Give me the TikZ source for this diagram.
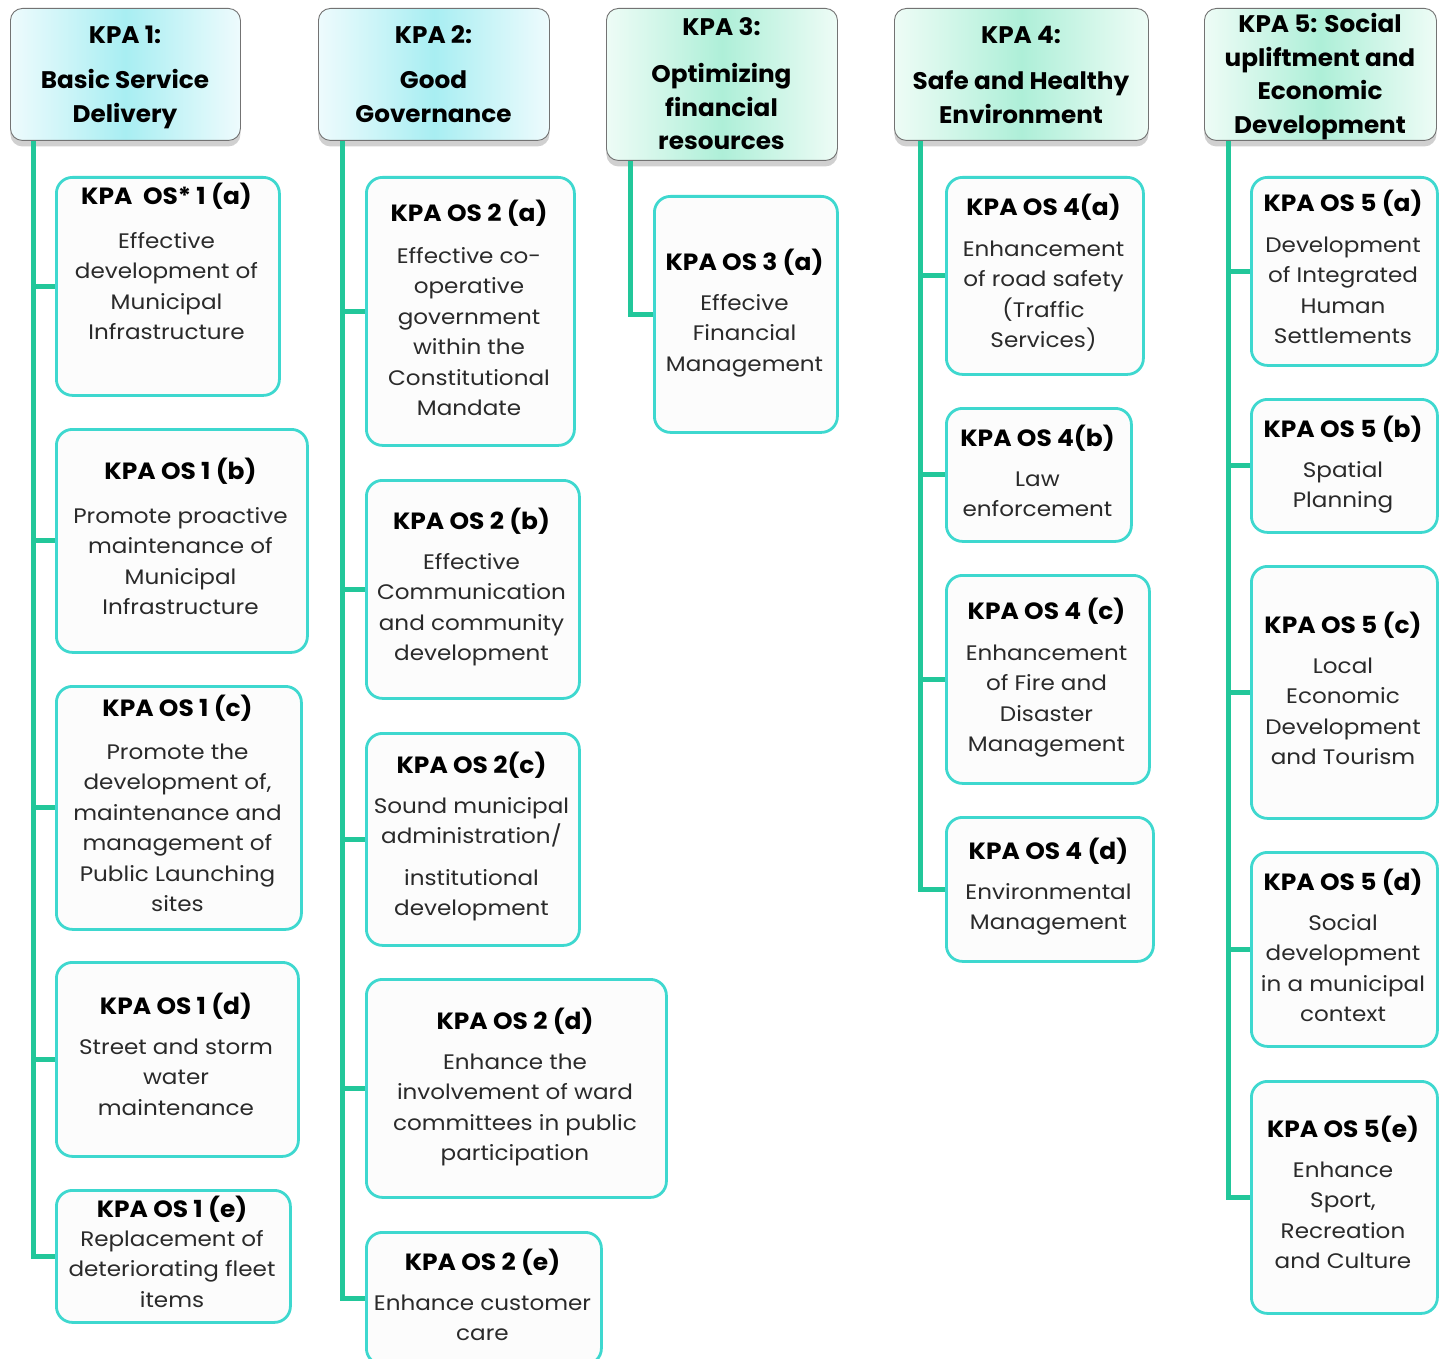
\documentclass[tikz,border=0pt]{standalone}
\usepackage{fontspec}
\setmainfont{Poppins}
\newfontfamily\bodyfont{Poppins}[FakeStretch=1.1]
\newfontfamily\ttlfont{Poppins}[FakeStretch=1.06]
\newfontfamily\hdrfont{Poppins}[FakeStretch=1.03]
\usetikzlibrary{shadows}
\definecolor{trunkc}{HTML}{22C79A}
\definecolor{boxc}{HTML}{3ED8CF}
\definecolor{boxfill}{HTML}{FCFCFC}
\definecolor{bodyc}{HTML}{2A2A2A}
\definecolor{hdrin}{HTML}{A8EEF2}
\definecolor{hdrout}{HTML}{EEFBFD}
\definecolor{hdrgin}{HTML}{AEEFD8}
\definecolor{hdrgout}{HTML}{EEFCF6}
\tikzset{
  conn/.style={draw=trunkc, line width=5pt},
  kbox/.style={draw=boxc, fill=boxfill, line width=2.8pt, rounded corners=16pt, inner sep=0pt},
  ttl/.style={font=\ttlfont\bfseries\fontsize{23.5}{27}\selectfont, inner sep=0pt, text=black},
  bdy/.style={font=\bodyfont\fontsize{21}{30.5}\selectfont, align=center, inner sep=0pt, text=bodyc},
  hdr/.style={draw=black!55, line width=0.9pt, rounded corners=12pt, inner sep=0pt,
    left color=hdrout, right color=hdrout, middle color=hdrin,
    drop shadow={shadow xshift=0pt, shadow yshift=-6pt, opacity=0.3, fill=black!60}},
  hdrg/.style={hdr, left color=hdrgout, right color=hdrgout, middle color=hdrgin},
  htxt/.style={font=\hdrfont\bfseries\fontsize{24}{33.5}\selectfont, align=center, inner sep=0pt, text=black},
}
\newcommand{\osbox}[9]{%
  \node[kbox, anchor=north west, minimum width={(#4-#2)*1pt}, minimum height={(#5-#3)*1pt}] (#1) at (#2,#3) {};
  \node[ttl, anchor=base] (#1t) at ({(#2+#4)/2}, {#6+8}) {#7};
  \node[bdy, anchor=north] (#1b) at ({(#2+#4)/2}, {#8-15}) {\rule{0pt}{22pt}#9};
}
\newcommand{\kpahdr}[8]{%
  \node[#8, anchor=north west, minimum width={(#4-#2)*1pt}, minimum height={(#5-#3)*1pt}] (#1) at (#2,#3) {};
  \node[htxt, anchor=north] (#1x) at ({(#2+#4)/2}, {#6-15.6}) {\rule{0pt}{24pt}#7};
}
\begin{document}
\begin{tikzpicture}[x=1pt, y=-1pt]
\useasboundingbox[fill=white] (0,0) rectangle (1441,1359);

% headers
\kpahdr{h1}{10}{8}{240}{140}{35}{KPA 1:\\[11.5pt]Basic Service\\Delivery}{hdr}
\kpahdr{h2}{318}{8}{549}{140}{35}{KPA 2:\\[11.5pt]Good\\Governance}{hdr}
\kpahdr{h3}{606}{8}{837}{160}{27}{KPA 3:\\[13.5pt]Optimizing\\financial\\resources}{hdrg}
\kpahdr{h4}{894}{8}{1148}{140}{35}{KPA 4:\\[12.5pt]Safe and Healthy\\Environment}{hdrg}
\kpahdr{h5}{1204}{8}{1436}{140}{24}{KPA 5: Social\\upliftment and\\Economic\\Development}{hdrg}

% column 1
\osbox{b1a}{55}{176}{278}{394}{197}{KPA\ \ OS* 1 (a)}{241}{Effective\\development of\\Municipal\\Infrastructure}
\osbox{b1b}{55}{428}{306}{651}{471}{KPA OS 1 (b)}{516}{Promote proactive\\maintenance of\\Municipal\\Infrastructure}
\osbox{b1c}{55}{685}{300}{928}{708}{KPA OS 1 (c)}{752}{Promote the\\development of,\\maintenance and\\management of\\Public Launching\\sites}
\osbox{b1d}{55}{961}{297}{1155}{1006}{KPA OS 1 (d)}{1047}{Street and storm\\water\\maintenance}
\osbox{b1e}{55}{1189}{289}{1321}{1209}{KPA OS 1 (e)}{1239}{Replacement of\\deteriorating fleet\\items}

% column 2
\osbox{b2a}{365}{176}{573}{444}{214}{KPA OS 2 (a)}{256}{Effective co-\\operative\\government\\within the\\Constitutional\\Mandate}
\osbox{b2b}{365}{479}{578}{697}{521}{KPA OS 2 (b)}{562}{Effective\\Communication\\and community\\development}
\osbox{b2c}{365}{732}{578}{944}{765}{KPA OS 2(c)}{806}{Sound municipal\\administration/\\[11pt]institutional\\development}
\osbox{b2d}{365}{978}{665}{1196}{1021}{KPA OS 2 (d)}{1062}{Enhance the\\involvement of ward\\committees in public\\participation}
\osbox{b2e}{365}{1231}{600}{1363}{1262}{KPA OS 2 (e)}{1303}{Enhance customer\\care}

% column 3
\osbox{b3a}{653}{195}{836}{431}{262}{KPA OS 3 (a)}{303}{Effecive\\Financial\\Management}

% column 4
\osbox{b4a}{945}{176}{1142}{373}{208}{KPA OS 4(a)}{249}{Enhancement\\of road safety\\(Traffic\\Services)}
\osbox{b4b}{945}{407}{1130}{540}{438}{KPA OS 4(b)}{479}{Law\\enforcement}
\osbox{b4c}{945}{574}{1148}{782}{611}{KPA OS 4 (c)}{653}{Enhancement\\of Fire and\\Disaster\\Management}
\osbox{b4d}{945}{816}{1152}{960}{851}{KPA OS 4 (d)}{892}{Environmental\\Management}

% column 5
\osbox{b5a}{1250}{176}{1436}{364}{204}{KPA OS 5 (a)}{245}{Development\\of Integrated\\Human\\Settlements}
\osbox{b5b}{1250}{398}{1436}{531}{429}{KPA OS 5 (b)}{470}{Spatial\\Planning}
\osbox{b5c}{1250}{565}{1436}{817}{625}{KPA OS 5 (c)}{666}{Local\\Economic\\Development\\and Tourism}
\osbox{b5d}{1250}{851}{1436}{1045}{882}{KPA OS 5 (d)}{923}{Social\\development\\in a municipal\\context}
\osbox{b5e}{1250}{1080}{1436}{1312}{1129}{KPA OS 5(e)}{1170}{Enhance\\Sport,\\Recreation\\and Culture}

% trunks
\coordinate (t1) at (33,141);
\coordinate (t2) at (342,141);
\coordinate (t3) at (630,161);
\coordinate (t4) at (920,141);
\coordinate (t5) at (1228,141);

\draw[conn] (t1) |- (b1e.west);
\foreach \b in {b1a,b1b,b1c,b1d} \draw[conn] (t1 |- \b.west) -- (\b.west);
\draw[conn] (t2) |- (b2e.west);
\foreach \b in {b2a,b2b,b2c,b2d} \draw[conn] (t2 |- \b.west) -- (\b.west);
\draw[conn] (t3) |- (b3a.west);
\draw[conn] (t4) |- (b4d.west);
\foreach \b in {b4a,b4b,b4c} \draw[conn] (t4 |- \b.west) -- (\b.west);
\draw[conn] (t5) |- (b5e.west);
\foreach \b in {b5a,b5b,b5c,b5d} \draw[conn] (t5 |- \b.west) -- (\b.west);
\end{tikzpicture}
\end{document}
